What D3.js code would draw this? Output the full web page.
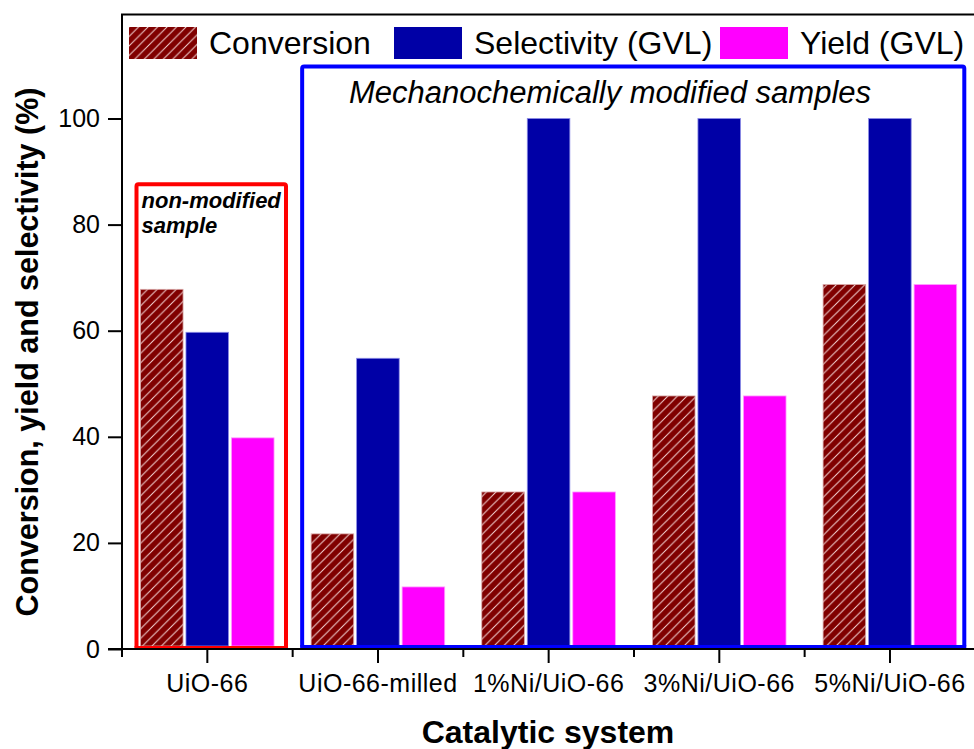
<!DOCTYPE html>
<html>
<head>
<meta charset="utf-8">
<script src="https://cdn.jsdelivr.net/npm/d3@7"></script>
<style>
  html, body { margin: 0; padding: 0; background: #fff; }
  svg { display: block; font-family: "Liberation Sans", Arial, sans-serif; }
</style>
</head>
<body>
<svg id="chart" width="974" height="749"></svg>
<script>
// Catalytic systems on the x axis
const categories = ["UiO-66", "UiO-66-milled", "1%Ni/UiO-66", "3%Ni/UiO-66", "5%Ni/UiO-66"];
// Series names (legend) and values in %
const seriesNames = ["Conversion", "Selectivity (GVL)", "Yield (GVL)"];
const conversion  = [67.8, 21.7, 29.6, 47.7, 68.7];
const selectivity = [59.7, 54.8, 100, 100, 100];
const yieldGVL    = [39.8, 11.7, 29.6, 47.7, 68.7];
const yTicks = [0, 20, 40, 60, 80, 100];

const seriesValues = [conversion, selectivity, yieldGVL];
const fills = ["url(#hatch)", "#0000A6", "#FF00FF"];
const edges = ["#d9a8a8", "#8c8ce6", "#ff9cff"];

const svg = d3.select("#chart");

// diagonal white hatch used for the conversion bars
const hs = 9.5;
const defs = svg.append("defs");
const pat = defs.append("pattern")
  .attr("id", "hatch").attr("patternUnits", "userSpaceOnUse")
  .attr("width", hs).attr("height", hs);
pat.append("rect").attr("width", hs).attr("height", hs).attr("fill", "#800000");
pat.append("path")
  .attr("d", `M-1,1 l2,-2 M0,${hs} l${hs},-${hs} M${hs - 1},${hs + 1} l2,-2`)
  .attr("stroke", "#f4d6d6").attr("stroke-width", 1);

// scales
const x = d3.scaleBand().domain(categories).range([122, 975.3]).padding(0);
const xs = d3.scaleBand().domain(seriesNames).range([17, 153.5])
  .paddingInner(0.064).paddingOuter(0.032);
const y = d3.scaleLinear().domain([0, 100]).range([649, 118.5]);
const yTop = 119.6;

// group boxes: non-modified and mechanochemically modified samples
const b0 = x(categories[0]);
svg.append("rect")
  .attr("x", b0 + 14.5).attr("y", y(87.6))
  .attr("width", 149.5).attr("height", y(0) - 1 - y(87.6))
  .attr("rx", 2).attr("fill", "none").attr("stroke", "#FF0000").attr("stroke-width", 4);
svg.append("text")
  .attr("x", b0 + 19.5).attr("y", 207.5)
  .attr("font-size", 22).attr("font-weight", "bold").attr("font-style", "italic")
  .text("non-modified");
svg.append("text")
  .attr("x", b0 + 19.5).attr("y", 233)
  .attr("font-size", 22).attr("font-weight", "bold").attr("font-style", "italic")
  .text("sample");

const b1 = x(categories[1]);
const bEnd = x(categories[4]) + x.bandwidth();
svg.append("rect")
  .attr("x", b1 + 9.5).attr("y", y(109.8))
  .attr("width", bEnd - 11 - (b1 + 9.5)).attr("height", y(0) - 2 - y(109.8))
  .attr("rx", 2).attr("fill", "none").attr("stroke", "#0000FF").attr("stroke-width", 4);
svg.append("text")
  .attr("x", 610).attr("y", 103)
  .attr("text-anchor", "middle")
  .attr("font-size", 31).attr("font-style", "italic")
  .text("Mechanochemically modified samples");

// bars
seriesNames.forEach((s, si) => {
  svg.append("g").selectAll("rect")
    .data(categories.map((c, i) => ({ c, v: seriesValues[si][i] })))
    .join("rect")
    .attr("x", d => x(d.c) + xs(s))
    .attr("y", d => y(d.v))
    .attr("width", xs.bandwidth())
    .attr("height", d => y(0) - 3 - y(d.v))
    .attr("fill", fills[si])
    .attr("stroke", edges[si]).attr("stroke-width", 0.8);
});

// re-draw the lower box edges over the bar bottoms
svg.append("line")
  .attr("x1", b0 + 12.5).attr("x2", b0 + 166).attr("y1", y(0) - 1).attr("y2", y(0) - 1)
  .attr("stroke", "#FF0000").attr("stroke-width", 4);
svg.append("line")
  .attr("x1", b1 + 7.5).attr("x2", bEnd - 9).attr("y1", y(0) - 2).attr("y2", y(0) - 2)
  .attr("stroke", "#0000FF").attr("stroke-width", 4);

// y axis
const yAxis = d3.axisLeft(y).tickValues(yTicks).tickSize(14).tickPadding(8).tickFormat(d3.format("d"));
const gy = svg.append("g").attr("transform", "translate(122,0)").call(yAxis);
gy.select(".domain").remove();
gy.selectAll(".tick line").attr("stroke", "#000").attr("stroke-width", 2);
gy.selectAll(".tick text").attr("font-size", 25).attr("font-family", "Liberation Sans, Arial, sans-serif").attr("fill", "#000");
svg.append("line").attr("x1", 122).attr("x2", 122).attr("y1", y(yTop)).attr("y2", y(0) + 1)
  .attr("stroke", "#000").attr("stroke-width", 2);

// x axis: long ticks at category centres, short ticks at the band edges
const gx = svg.append("g").attr("transform", `translate(0,${y(0)})`);
gx.append("line").attr("x1", 108).attr("x2", 974).attr("stroke", "#000").attr("stroke-width", 2);
gx.selectAll(".major").data(categories).join("line").attr("class", "major")
  .attr("x1", d => x(d) + x.bandwidth() / 2).attr("x2", d => x(d) + x.bandwidth() / 2)
  .attr("y1", 0).attr("y2", 14).attr("stroke", "#000").attr("stroke-width", 2);
gx.selectAll(".minor").data(categories).join("line").attr("class", "minor")
  .attr("x1", d => x(d)).attr("x2", d => x(d))
  .attr("y1", 0).attr("y2", 8).attr("stroke", "#000").attr("stroke-width", 2);
gx.selectAll("text").data(categories).join("text")
  .attr("x", d => x(d) + x.bandwidth() / 2).attr("y", 43)
  .attr("text-anchor", "middle").attr("font-size", 25).attr("letter-spacing", 0.5)
  .text(d => d);

// top frame line
svg.append("line").attr("x1", 121).attr("x2", 974).attr("y1", y(yTop)).attr("y2", y(yTop))
  .attr("stroke", "#000").attr("stroke-width", 2);

// axis titles
svg.append("text")
  .attr("x", 548).attr("y", 743).attr("text-anchor", "middle")
  .attr("font-size", 32).attr("font-weight", "bold")
  .text("Catalytic system");
svg.append("text")
  .attr("transform", "translate(38,352) rotate(-90)")
  .attr("text-anchor", "middle")
  .attr("font-size", 30.5).attr("font-weight", "bold")
  .text("Conversion, yield and selectivity (%)");

// legend
const legendX = [129, 394, 720];
const lg = svg.append("g").selectAll("g").data(seriesNames).join("g")
  .attr("transform", (d, i) => `translate(${legendX[i]},27)`);
lg.append("rect").attr("width", 68).attr("height", 32)
  .attr("fill", (d, i) => fills[i]);
lg.append("text").attr("x", 80).attr("y", 27)
  .attr("font-size", 32).text(d => d);
</script>
</body>
</html>
